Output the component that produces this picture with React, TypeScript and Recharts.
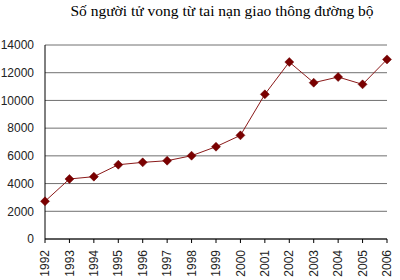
import { CartesianGrid, Line, LineChart, XAxis, YAxis } from "recharts"

const years = ["1992", "1993", "1994", "1995", "1996", "1997", "1998", "1999", "2000", "2001", "2002", "2003", "2004", "2005", "2006"]
const deaths = [2720, 4330, 4500, 5360, 5530, 5650, 6010, 6660, 7480, 10440, 12770, 11280, 11690, 11160, 12960]
const yTicks = [0, 2000, 4000, 6000, 8000, 10000, 12000, 14000]
const title = "Số người tử vong từ tai nạn giao thông đường bộ"

const data = years.map((year, i) => ({ year, value: deaths[i] }))

const Diamond = ({ cx, cy }: any) => {
  if (cx == null || cy == null) return null
  const r = 4.5
  return (
    <polygon
      points={`${cx},${cy - r} ${cx + r},${cy} ${cx},${cy + r} ${cx - r},${cy}`}
      fill="#7a0000"
      stroke="#6a0000"
      strokeWidth={0.5}
    />
  )
}

const YearTick = ({ x, y, payload }: any) => (
  <text
    transform={`translate(${x},${y}) rotate(-90)`}
    textAnchor="end"
    dy="0.35em"
    fontSize={12}
    fill="#222"
    fontFamily="Liberation Sans, Arial, sans-serif"
  >
    {payload.value}
  </text>
)

export default function App() {
  return (
    <div style={{ position: "absolute", left: 0, top: 0, width: 400, height: 280, background: "#fff" }}>
      <div
        style={{
          position: "absolute",
          left: 0,
          width: 444,
          top: 2,
          textAlign: "center",
          fontFamily: "Liberation Serif, Times New Roman, serif",
          fontSize: 15.5,
          color: "#000",
        }}
      >
        {title}
      </div>
      <LineChart width={400} height={280} data={data} margin={{ top: 45, right: 13, bottom: 0, left: 0 }}>
        <CartesianGrid vertical={false} stroke="#707070" />
        <XAxis
          dataKey="year"
          height={41}
          interval={0}
          tickSize={4}
          tickMargin={7}
          stroke="#000"
          tick={<YearTick />}
        />
        <YAxis
          width={45}
          domain={[0, 14000]}
          ticks={yTicks}
          tickSize={0}
          tickMargin={11}
          stroke="#000"
          tick={{ fontSize: 12, fill: "#222", fontFamily: "Liberation Sans, Arial, sans-serif" }}
        />
        <YAxis yAxisId="r" orientation="right" width={0} tick={false} tickLine={false} stroke="#333" />
        <Line
          type="linear"
          dataKey="value"
          stroke="#8b1a1a"
          strokeWidth={1}
          dot={<Diamond />}
          activeDot={false}
          isAnimationActive={false}
        />
      </LineChart>
    </div>
  )
}
